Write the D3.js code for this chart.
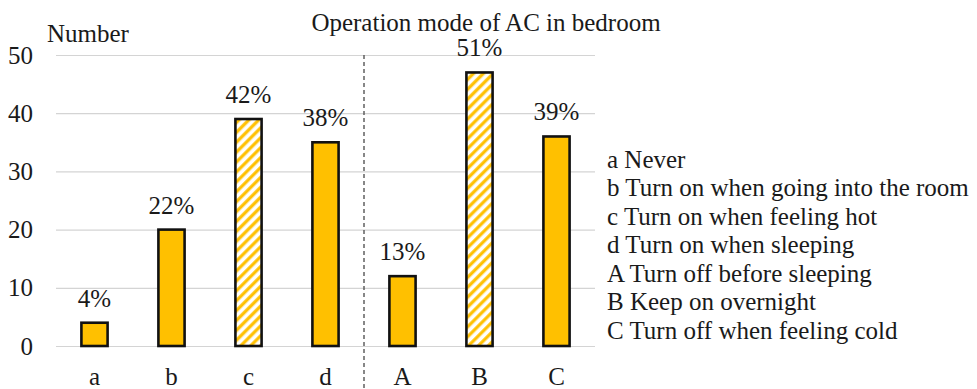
<!DOCTYPE html>
<html>
<head>
<meta charset="utf-8">
<script src="https://cdn.jsdelivr.net/npm/d3@7/dist/d3.min.js"></script>
<style>
  html, body { margin: 0; padding: 0; background: #fff; }
  svg { display: block; }
</style>
</head>
<body>
<svg id="chart" width="977" height="389"></svg>
<script>
// Survey answers: how the bedroom AC is operated
const categories = ["a", "b", "c", "d", "A", "B", "C"];
const counts = [4, 20, 39, 35, 12, 47, 36];
const shares = ["4%", "22%", "42%", "38%", "13%", "51%", "39%"];
const hatched = [false, false, true, false, false, true, false];
const yTicks = [0, 10, 20, 30, 40, 50];
const legendLines = [
  "a Never",
  "b Turn on when going into the room",
  "c Turn on when feeling hot",
  "d Turn on when sleeping",
  "A Turn off before sleeping",
  "B Keep on overnight",
  "C Turn off when feeling cold"
];
const title = "Operation mode of AC in bedroom";
const yTitle = "Number";

const FONT = "'Liberation Serif', 'Times New Roman', serif";
const FS = 25;
const svg = d3.select("#chart").attr("font-family", FONT);
const gold = "#FFC000";

const x = d3.scaleBand().domain(categories).range([56, 595])
  .paddingInner(0.66).paddingOuter(0.33);
const y = d3.scaleLinear().domain([0, 50]).range([346, 55]);

// diagonal stripe fill for the highlighted answers
const defs = svg.append("defs");
const pat = defs.append("pattern")
  .attr("id", "stripes")
  .attr("patternUnits", "userSpaceOnUse")
  .attr("width", 7).attr("height", 7)
  .attr("patternTransform", "rotate(45)");
pat.append("rect").attr("width", 7).attr("height", 7).attr("fill", "#fff");
pat.append("line").attr("x1", 1.8).attr("y1", 0).attr("x2", 1.8).attr("y2", 7)
  .attr("stroke", gold).attr("stroke-width", 3.2);

function styleText(sel) {
  sel.attr("font-family", FONT).attr("font-size", FS).attr("fill", "#1a1a1a");
}

// y axis with gridlines
const yAxis = d3.axisLeft(y).tickValues(yTicks)
  .tickSize(-(595 - 56)).tickPadding(23);
const ga = svg.append("g").attr("transform", "translate(56,0)").call(yAxis);
ga.attr("font-family", FONT);
ga.select(".domain").remove();
ga.selectAll(".tick line").attr("stroke", "#d4d4d4").attr("stroke-width", 1.2);
ga.selectAll(".tick text").call(styleText);

// x axis labels
const xAxis = d3.axisBottom(x).tickSize(0).tickPadding(21);
const gx = svg.append("g").attr("transform", `translate(0,${y(0)})`).call(xAxis);
gx.attr("font-family", FONT);
gx.select(".domain").remove();
gx.selectAll(".tick text").call(styleText);

// separator between switching-on and switching-off answers
const sepX = (x("d") + x.bandwidth() + x("A")) / 2;
svg.append("line")
  .attr("x1", sepX).attr("x2", sepX)
  .attr("y1", y(50)).attr("y2", 389)
  .attr("stroke", "#555").attr("stroke-width", 1.4)
  .attr("stroke-dasharray", "4,3");

// bars
const data = categories.map((c, i) => ({ c, v: counts[i], s: shares[i], h: hatched[i] }));
svg.append("g").selectAll("rect").data(data).join("rect")
  .attr("x", d => x(d.c))
  .attr("y", d => y(d.v))
  .attr("width", x.bandwidth())
  .attr("height", d => y(0) - y(d.v))
  .attr("fill", d => d.h ? "url(#stripes)" : gold)
  .attr("stroke", "#111")
  .attr("stroke-width", 2.6);

// share labels above bars
svg.append("g").selectAll("text").data(data).join("text")
  .attr("x", d => x(d.c) + x.bandwidth() / 2)
  .attr("y", d => y(d.v) - 16)
  .attr("text-anchor", "middle")
  .call(styleText)
  .text(d => d.s);

// titles
svg.append("text").attr("x", 486).attr("y", 31)
  .attr("text-anchor", "middle").call(styleText).text(title);
svg.append("text").attr("x", 47).attr("y", 42)
  .call(styleText).text(yTitle);

// legend
svg.append("g").selectAll("text").data(legendLines).join("text")
  .attr("x", 607)
  .attr("y", (d, i) => 167.5 + i * 28.5)
  .call(styleText)
  .text(d => d);
</script>
</body>
</html>
